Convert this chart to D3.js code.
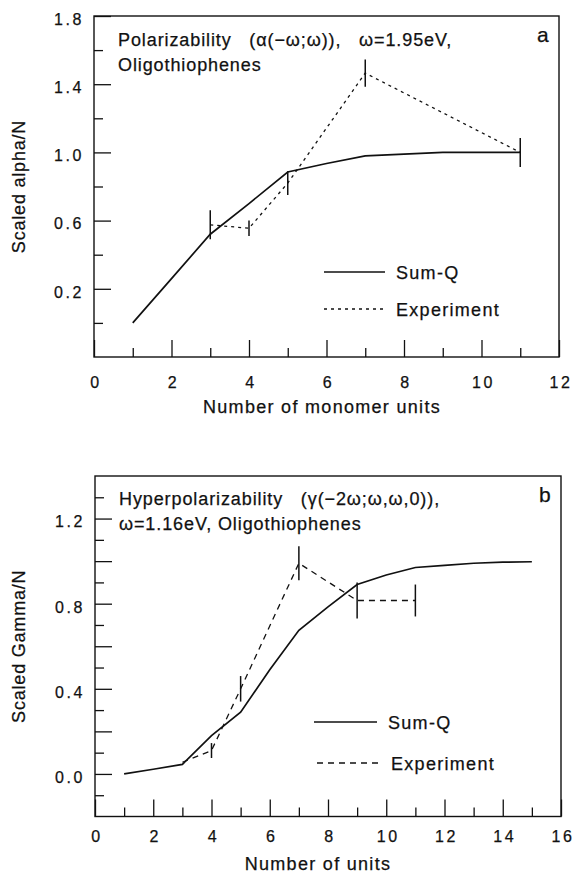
<!DOCTYPE html>
<html>
<head>
  <meta charset="utf-8">
  <script src="https://cdn.jsdelivr.net/npm/d3@7"></script>
  <style>
    body { margin: 0; background: #fff; }
    svg text { font-family: "Liberation Sans", Arial, sans-serif; fill: #111; stroke: #111; stroke-width: 0.25px; }
    .tick text { font-size: 16px; letter-spacing: 2.6px; }
    .note { font-size: 18px; letter-spacing: 0.9px; white-space: pre; }
    .title { font-size: 18px; letter-spacing: 1.3px; white-space: pre; }
  </style>
</head>
<body>
<script>
  // panel a : polarizability
  var unitsA = [1, 2, 3, 4, 5, 6, 7, 8, 9, 10, 11];
  var sumQA = [0.0, 0.26, 0.52, 0.70, 0.885, 0.935, 0.98, 0.99, 1.0, 1.0, 1.0];
  var expUnitsA = [3, 4, 5, 7, 11];
  var expA = [0.575, 0.555, 0.82, 1.465, 1.0];
  var expErrA = [0.085, 0.045, 0.07, 0.08, 0.085];
  var xLabelsA = [0, 2, 4, 6, 8, 10, 12];
  var yLabelsA = [0.2, 0.6, 1.0, 1.4, 1.8];

  // panel b : hyperpolarizability
  var unitsB = [1, 2, 3, 4, 5, 6, 7, 8, 9, 10, 11, 12, 13, 14, 15];
  var sumQB = [0.0, 0.022, 0.045, 0.18, 0.29, 0.49, 0.675, 0.785, 0.89, 0.935, 0.97, 0.98, 0.99, 0.995, 0.997];
  var expUnitsB = [3, 4, 5, 7, 9, 11];
  var expB = [0.055, 0.11, 0.40, 0.99, 0.815, 0.815];
  var expErrB = [0, 0.035, 0.06, 0.08, 0.085, 0.075];
  var xLabelsB = [0, 2, 4, 6, 8, 10, 12, 14, 16];
  var yLabelsB = [0.0, 0.4, 0.8, 1.2];

  var svg = d3.select("body").append("svg")
      .attr("width", 577)
      .attr("height", 873);

  function panel(p) {
    var x = d3.scaleLinear().domain(p.xDomain).range([p.left, p.right]);
    var y = d3.scaleLinear().domain(p.yDomain).range([p.bottom, p.top]);
    var g = svg.append("g");

    // minor ticks
    g.append("g")
        .attr("transform", "translate(0," + p.bottom + ")")
        .call(d3.axisBottom(x).tickValues(p.xMinor).tickSize(-9).tickFormat(""));
    g.append("g")
        .attr("transform", "translate(" + p.left + ",0)")
        .call(d3.axisLeft(y).tickValues(p.yMinor).tickSize(-9).tickFormat(""));

    // major ticks with labels
    var xa = g.append("g")
        .attr("transform", "translate(0," + p.bottom + ")")
        .call(d3.axisBottom(x).tickValues(p.xMajor).tickSize(-17).tickPadding(p.xPad)
          .tickFormat(function (d) { return p.xLabels.indexOf(d) >= 0 ? d : ""; }));
    xa.selectAll("text").attr("dx", "1.5");
    var ya = g.append("g")
        .attr("transform", "translate(" + p.left + ",0)")
        .call(d3.axisLeft(y).tickValues(p.yMajor).tickSize(-17).tickPadding(10)
          .tickFormat(function (d) {
            return p.yLabels.some(function (v) { return Math.abs(v - d) < 1e-6; }) ? d3.format(".1f")(d) : "";
          }));
    ya.selectAll("text").attr("dy", "0.52em");

    g.selectAll(".domain").remove();
    g.selectAll(".tick line").attr("stroke", "#111").attr("stroke-width", 1.3);

    // frame
    g.append("rect")
        .attr("x", p.left).attr("y", p.top)
        .attr("width", p.right - p.left).attr("height", p.bottom - p.top)
        .attr("fill", "none").attr("stroke", "#111").attr("stroke-width", 1.4);

    var line = d3.line()
        .x(function (d) { return x(d[0]); })
        .y(function (d) { return y(d[1]); });

    g.append("path")
        .datum(d3.zip(p.units, p.sumQ))
        .attr("d", line)
        .attr("fill", "none").attr("stroke", "#111").attr("stroke-width", 1.7);

    g.append("path")
        .datum(d3.zip(p.expUnits, p.exp))
        .attr("d", line)
        .attr("fill", "none").attr("stroke", "#111").attr("stroke-width", 1.3)
        .attr("stroke-dasharray", p.dash);

    // error bars
    g.selectAll(".err")
        .data(d3.zip(p.expUnits, p.exp, p.expErr).filter(function (d) { return d[2] > 0; }))
      .enter().append("line")
        .attr("x1", function (d) { return x(d[0]); })
        .attr("x2", function (d) { return x(d[0]); })
        .attr("y1", function (d) { return y(d[1] - d[2]); })
        .attr("y2", function (d) { return y(d[1] + d[2]); })
        .attr("stroke", "#111").attr("stroke-width", 1.5);

    // legend
    g.append("line")
        .attr("x1", p.leg[0]).attr("x2", p.leg[1])
        .attr("y1", p.leg[2]).attr("y2", p.leg[2])
        .attr("stroke", "#111").attr("stroke-width", 1.7);
    g.append("text").attr("class", "title")
        .attr("x", p.leg[1] + 11).attr("y", p.leg[2] + 7).text("Sum-Q");
    g.append("line")
        .attr("x1", p.leg[0] + p.leg[4]).attr("x2", p.leg[1] + p.leg[4])
        .attr("y1", p.leg[3]).attr("y2", p.leg[3])
        .attr("stroke", "#111").attr("stroke-width", 1.3)
        .attr("stroke-dasharray", p.dash);
    g.append("text").attr("class", "title")
        .attr("x", p.leg[1] + p.leg[4] + 11).attr("y", p.leg[3] + 7).text("Experiment");

    // notes
    g.selectAll(".note")
        .data(p.note)
      .enter().append("text")
        .attr("class", "note")
        .attr("x", p.left + 24)
        .attr("y", function (d, i) { return p.noteY + i * 25; })
        .text(function (d) { return d; });
    g.append("text")
        .attr("x", p.right - 22).attr("y", p.top + 26)
        .style("font-size", "21px")
        .text(p.tag);

    // axis titles
    g.append("text").attr("class", "title")
        .attr("text-anchor", "middle")
        .attr("x", p.xTitle[0]).attr("y", p.xTitle[1])
        .text(p.xTitleText);
    g.append("text").attr("class", "title")
        .attr("text-anchor", "middle")
        .style("letter-spacing", "0.8px")
        .attr("transform", "translate(" + 25 + "," + (p.top + p.bottom) / 2 + ") rotate(-90)")
        .text(p.yTitleText);
  }

  panel({
    left: 94, right: 559, top: 16, bottom: 357,
    xDomain: [0, 12], yDomain: [-0.2, 1.8],
    xMajor: [0, 2, 4, 6, 8, 10, 12], xMinor: [1, 3, 5, 7, 9, 11],
    yMajor: [0.2, 0.6, 1.0, 1.4, 1.8], yMinor: [0.0, 0.4, 0.8, 1.2, 1.6],
    xLabels: xLabelsA, yLabels: yLabelsA, xPad: 20,
    units: unitsA, sumQ: sumQA, expUnits: expUnitsA, exp: expA, expErr: expErrA,
    dash: "3,4",
    leg: [324, 385, 272, 309, 0],
    note: ["Polarizability   (α(−ω;ω)),   ω=1.95eV,", "Oligothiophenes"], noteY: 46,
    tag: "a",
    xTitle: [322, 413], xTitleText: "Number of monomer units",
    yTitleText: "Scaled alpha/N"
  });

  panel({
    left: 95, right: 561, top: 476, bottom: 816.5,
    xDomain: [0, 16], yDomain: [-0.2, 1.4],
    xMajor: [0, 2, 4, 6, 8, 10, 12, 14, 16], xMinor: [1, 3, 5, 7, 9, 11, 13, 15],
    yMajor: [0.0, 0.2, 0.4, 0.6, 0.8, 1.0, 1.2], yMinor: [-0.1, 0.1, 0.3, 0.5, 0.7, 0.9, 1.1, 1.3],
    xLabels: xLabelsB, yLabels: yLabelsB, xPad: 14,
    units: unitsB, sumQ: sumQB, expUnits: expUnitsB, exp: expB, expErr: expErrB,
    dash: "6,5",
    leg: [314, 377, 722, 763, 3],
    note: ["Hyperpolarizability   (γ(−2ω;ω,ω,0)),", "ω=1.16eV, Oligothiophenes"], noteY: 505,
    tag: "b",
    xTitle: [318, 870], xTitleText: "Number of units",
    yTitleText: "Scaled Gamma/N"
  });
</script>
</body>
</html>
